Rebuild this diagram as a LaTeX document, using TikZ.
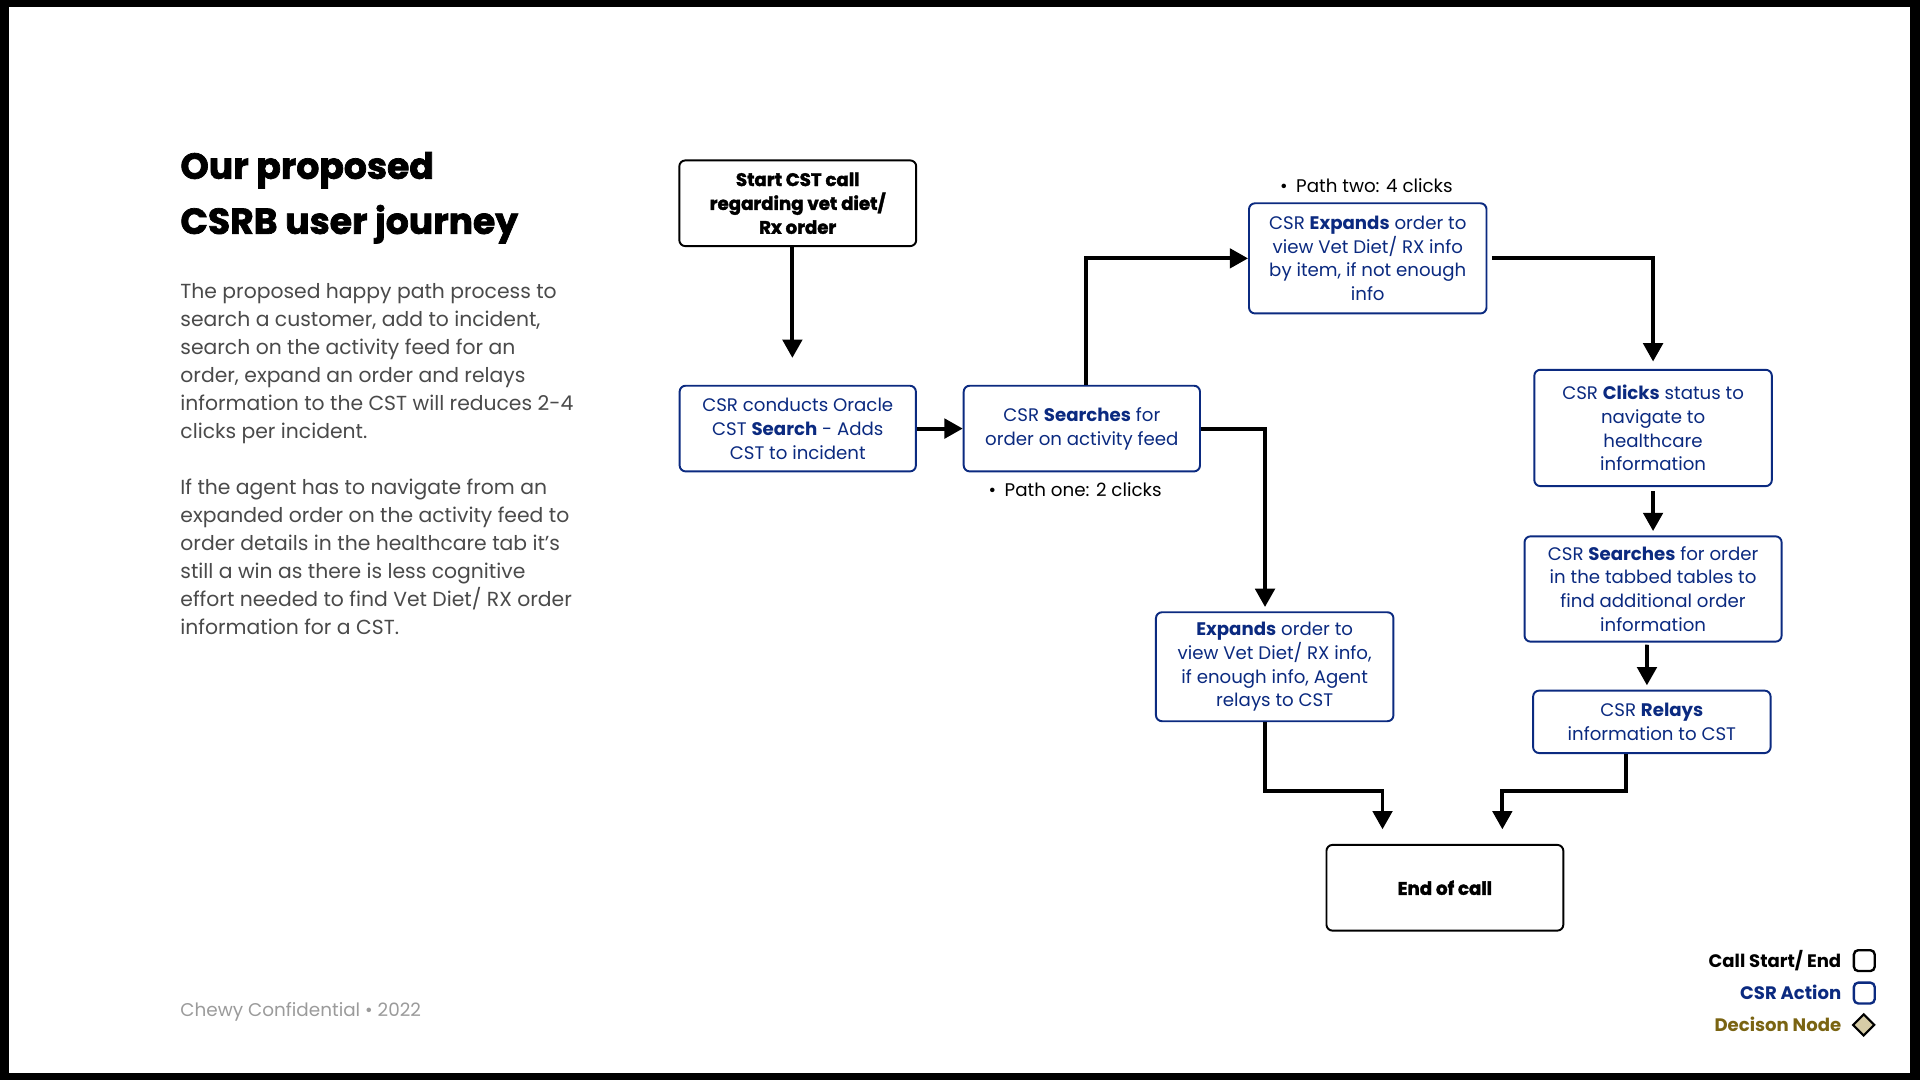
\documentclass[tikz,border=0pt]{standalone}
\usepackage{fontspec}
\setmainfont{Poppins}
\newfontfamily\heavyfont{Poppins}[UprightFeatures={FakeBold=2}, BoldFeatures={FakeBold=2}]
\usetikzlibrary{arrows.meta,shapes.geometric}

\definecolor{csrblue}{HTML}{0B2A80}
\definecolor{bodygray}{HTML}{4A4A4A}
\definecolor{footgray}{HTML}{9B9B9B}
\definecolor{decolive}{HTML}{7A6412}
\definecolor{decfill}{HTML}{D6CCA6}

\tikzset{
  stepbase/.style={draw, rounded corners=2.8pt, line width=0.9pt, align=center, inner sep=2pt,
    font=\fontsize{8.45}{11.1}\selectfont},
  endpoint/.style={stepbase, draw=black, font=\fontsize{8.45}{11.1}\selectfont\heavyfont\bfseries,
    minimum width=3.87cm, minimum height=1.4cm},
  action/.style={stepbase, draw=csrblue, text=csrblue},
  flow/.style={line width=1.8pt, -{Triangle[length=8.5pt,width=9pt]}},
  legtext/.style={anchor=base east, inner sep=0, font=\fontsize{8.4}{10}\selectfont\bfseries},
  legbox/.style={draw, rounded corners=2pt, line width=1.1pt, minimum size=0.34cm, inner sep=0},
}

\begin{document}
\begin{tikzpicture}[x=0.02cm, y=-0.02cm]
				% frame
				\fill[black] (0,0) rectangle (1568,882);
				\fill[white] (7,6) rectangle (1560,876);
				% title and intro text
				\node[anchor=base west, inner sep=0, font=\fontsize{16.8}{20}\selectfont\heavyfont\bfseries] (title1) at (147,146) {Our proposed};
				\node[anchor=base west, inner sep=0, font=\fontsize{16.8}{20}\selectfont\heavyfont\bfseries] (title2) at (147,191) {CSRB user journey};
				\node[anchor=north west, inner sep=0, align=left, text=bodygray, font=\fontsize{9.45}{13}\selectfont] (intro) at (147,231.5)
					{The proposed happy path process to\\ search a customer, add to incident,\\ search on the activity feed for an\\
					 order, expand an order and relays\\ information to the CST will reduces 2-4\\ clicks per incident.\\[13pt]
					 If the agent has to navigate from an\\ expanded order on the activity feed to\\ order details in the healthcare tab it’s\\
					 still a win as there is less cognitive\\ effort needed to find Vet Diet/ RX order\\ information for a CST.};
				\node[anchor=base west, inner sep=0, text=footgray, font=\fontsize{8.55}{10}\selectfont] (footer) at (147,830) {Chewy Confidential • 2022};
				% flow nodes
				\node[endpoint] (start) at (651.5,166) {Start CST call\\ regarding vet diet/\\ Rx order};
				\node[action, minimum width=3.86cm, minimum height=1.4cm] (oracle) at (651.5,350) {CSR conducts Oracle\\ CST \textbf{Search} - Adds\\ CST to incident};
				\node[action, minimum width=3.86cm, minimum height=1.4cm] (search) at (883.5,350) {CSR \textbf{Searches} for\\ order on activity feed};
				\node[action, minimum width=3.88cm, minimum height=1.8cm] (expandA) at (1117,211) {CSR \textbf{Expands} order to\\ view Vet Diet/ RX info\\ by item, if not enough\\ info};
				\node[action, minimum width=3.88cm, minimum height=1.9cm] (clicks) at (1350,349.5) {CSR \textbf{Clicks} status to\\ navigate to\\ healthcare\\ information};
				\node[action, minimum width=4.2cm, minimum height=1.72cm] (tabsearch) at (1350,481) {CSR \textbf{Searches} for order\\ in the tabbed tables to\\ find additional order\\ information};
				\node[action, minimum width=3.88cm, minimum height=1.02cm] (relays) at (1349,589.5) {CSR \textbf{Relays}\\ information to CST};
				\node[action, minimum width=3.88cm, minimum height=1.78cm] (expandB) at (1041,544.5) {\textbf{Expands} order to\\ view Vet Diet/ RX info,\\ if enough info, Agent\\ relays to CST};
				\node[endpoint] (endcall) at (1180,725) {End of call};
				% path labels
				\node[anchor=west, inner sep=0, font=\fontsize{8.5}{10}\selectfont] (pathtwo) at (1045,152) {•\hspace{4pt}Path two: 4 clicks};
				\node[anchor=west, inner sep=0, font=\fontsize{8.5}{10}\selectfont] (pathone) at (807,400) {•\hspace{4pt}Path one: 2 clicks};
				% connectors
				\draw[flow, shorten >=12.5pt] ([xshift=-2.5pt]start.south) -- ([xshift=-2.5pt]oracle.north);
				\draw[flow] (oracle.east) -- (search.west);
				\draw[flow] ([xshift=2pt]search.north) |- (expandA.west);
				\draw[flow, shorten <=2pt, shorten >=3.4pt] (expandA.east) -| (clicks.north);
				\draw[flow, shorten >=2pt] (search.east) -| ([xshift=-4.5pt]expandB.north);
				\draw[flow, shorten <=2pt, shorten >=2pt] (clicks.south) -- (tabsearch.north);
				\draw[flow, shorten <=1pt, shorten >=2pt] ([xshift=-2.8pt]tabsearch.south) -- ([xshift=-2.3pt]relays.north);
				\draw[flow, shorten >=6.8pt] ([xshift=-4.5pt]expandB.south) -- ++(0,56) -| ([xshift=-29pt]endcall.north);
				\draw[flow, shorten >=6.8pt] ([xshift=-12pt]relays.south) -- ++(0,30) -| ([xshift=26.7pt]endcall.north);
				% legend
				\node[legtext] (legend1) at (1504,790) {Call Start/ End};
				\node[legtext, text=csrblue] (legend2) at (1504,816) {CSR Action};
				\node[legtext, text=decolive] (legend3) at (1504,842) {Decison Node};
				\node[legbox] (key1) at (1522.5,784.5) {};
				\node[legbox, draw=csrblue] (key2) at (1522.5,811) {};
				\node[diamond, draw, fill=decfill, line width=1pt, minimum width=0.36cm, minimum height=0.36cm, inner sep=0] (key3) at (1522,837) {};
			\end{tikzpicture}
\end{document}
